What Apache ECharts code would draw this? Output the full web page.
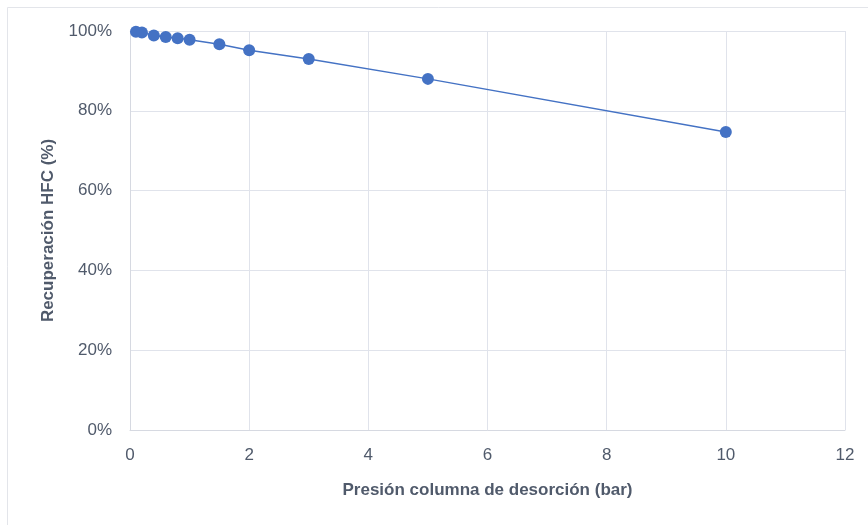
<!DOCTYPE html>
<html>
<head>
<meta charset="utf-8">
<script src="https://cdn.jsdelivr.net/npm/echarts@6/dist/echarts.min.js"></script>
<style>
  html, body { margin: 0; padding: 0; background: #fff; }
  #chart { width: 868px; height: 525px; }
</style>
</head>
<body>
<div id="chart"></div>
<script>
// Desorption column pressure (bar) vs HFC recovery (%)
const pressures = [0.1, 0.2, 0.4, 0.6, 0.8, 1.0, 1.5, 2, 3, 5, 10];
const recovery = [99.8, 99.6, 98.9, 98.5, 98.2, 97.8, 96.7, 95.2, 93.0, 88.0, 74.7];
const xTicks = [0, 2, 4, 6, 8, 10, 12];
const yTicks = [0, 20, 40, 60, 80, 100];

const textColor = '#505a6b';
const gridColor = '#e0e3eb';
const font = 'Liberation Sans, Arial, sans-serif';

const chart = echarts.init(document.getElementById('chart'), null, { renderer: 'canvas' });
chart.setOption({
  backgroundColor: '#ffffff',
  animation: false,
  graphic: [{
    type: 'rect',
    shape: { x: 7.5, y: 7.5, width: 900, height: 600 },
    style: { fill: 'none', stroke: '#e3e5ea', lineWidth: 1 },
    silent: true
  }],
  grid: { left: 130, right: 23, top: 31, bottom: 95 },
  xAxis: {
    type: 'value',
    min: xTicks[0],
    max: xTicks[xTicks.length - 1],
    interval: 2,
    name: 'Presión columna de desorción (bar)',
    nameLocation: 'middle',
    nameGap: 52,
    nameTextStyle: { color: textColor, fontFamily: font, fontSize: 17, fontWeight: 'bold' },
    axisLine: { show: true, lineStyle: { color: '#d6d9e1', width: 1 } },
    axisTick: { show: false },
    axisLabel: { color: textColor, fontFamily: font, fontSize: 17, margin: 17 },
    splitLine: { show: true, lineStyle: { color: gridColor, width: 1 } }
  },
  yAxis: {
    type: 'value',
    min: yTicks[0],
    max: yTicks[yTicks.length - 1],
    interval: 20,
    name: 'Recuperación HFC (%)',
    nameLocation: 'middle',
    nameGap: 73,
    nameTextStyle: { color: textColor, fontFamily: font, fontSize: 17, fontWeight: 'bold' },
    axisLine: { show: true, lineStyle: { color: '#d6d9e1', width: 1 } },
    axisTick: { show: false },
    axisLabel: { color: textColor, fontFamily: font, fontSize: 17, margin: 18,
                 formatter: v => v + '%' },
    splitLine: { show: true, lineStyle: { color: gridColor, width: 1 } }
  },
  series: [{
    type: 'line',
    data: pressures.map((p, i) => [p, recovery[i]]),
    symbol: 'circle',
    symbolSize: 12,
    showAllSymbol: true,
    lineStyle: { color: '#4472c4', width: 1.5 },
    itemStyle: { color: '#4472c4' },
    z: 3
  }]
});
</script>
</body>
</html>
